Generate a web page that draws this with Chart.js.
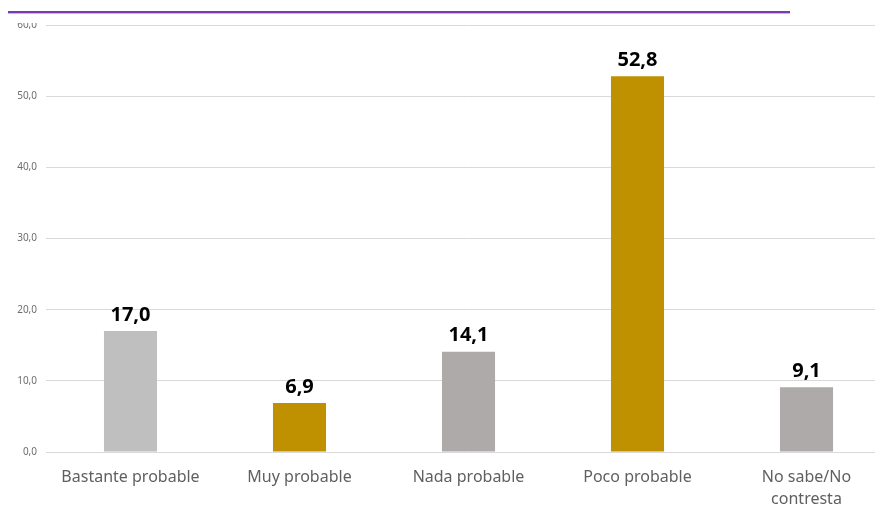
<!DOCTYPE html>
<html lang="es">
<head>
  <meta charset="UTF-8">
  <title>Probabilidad</title>
  <script src="https://cdn.jsdelivr.net/npm/chart.js"></script>
  <style>
    html, body { margin: 0; padding: 0; background: #fff; overflow: hidden; }
    #wrap { position: relative; width: 891px; height: 506px; }
    #topMask { position: absolute; left: 0; top: 0; width: 875px; height: 23px; background: #fff; }
    #topLine { position: absolute; left: 8px; top: 11px; width: 782px; height: 0;
               border-top: 2px solid #7B3BAE; border-bottom: 1px solid #C9B3E0; }
  </style>
</head>
<body>
  <div id="wrap">
    <canvas id="chart" width="891" height="506"></canvas>
    <div id="topMask"></div>
    <div id="topLine"></div>
  </div>

  <script>
    // data
    var categories = ['Bastante probable', 'Muy probable', 'Nada probable', 'Poco probable', ['No sabe/No', 'contresta']];
    var values = [17.0, 6.9, 14.1, 52.8, 9.1];
    var barColors = ['#BFBFBF', '#BF9000', '#AEAAAA', '#BF9000', '#AEAAAA'];
    var yTicks = [0, 10, 20, 30, 40, 50, 60];

    function fmt(v) {
      return v.toFixed(1).replace('.', ',');
    }

    // value labels above bars
    var valueLabels = {
      id: 'valueLabels',
      afterDatasetsDraw: function(chart) {
        var ctx = chart.ctx;
        var meta = chart.getDatasetMeta(0);
        ctx.save();
        ctx.font = 'bold 20px "Noto Sans"';
        ctx.fillStyle = '#000';
        ctx.textAlign = 'center';
        ctx.textBaseline = 'bottom';
        meta.data.forEach(function(bar, i) {
          ctx.fillText(fmt(values[i]), bar.x, bar.y - 6);
        });
        ctx.restore();
      }
    };

    new Chart(document.getElementById('chart'), {
      type: 'bar',
      data: {
        labels: categories,
        datasets: [{
          data: values,
          backgroundColor: barColors,
          borderWidth: 0,
          categoryPercentage: 1.0,
          barPercentage: 0.314
        }]
      },
      options: {
        responsive: false,
        animation: false,
        layout: { padding: { top: 25, right: 0, bottom: 0, left: 0 } },
        plugins: { legend: { display: false }, tooltip: { enabled: false } },
        scales: {
          x: {
            grid: { display: false, drawTicks: false },
            border: { display: false },
            ticks: {
              color: '#5F5F5F',
              font: { family: 'Noto Sans', size: 16, lineHeight: 1.4 },
              padding: 14,
              maxRotation: 0,
              autoSkip: false
            },
            afterFit: function(s) { s.height = 54; }
          },
          y: {
            min: 0,
            max: 60,
            afterBuildTicks: function(s) { s.ticks = yTicks.map(function(v) { return { value: v }; }); },
            grid: { color: '#D9D9D9', lineWidth: 1, drawTicks: false },
            border: { display: false },
            ticks: {
              color: '#6E6E6E',
              font: { family: 'Noto Sans', size: 10 },
              padding: 9,
              callback: function(v) { return fmt(v); }
            },
            afterFit: function(s) { s.width = 46; }
          }
        }
      },
      plugins: [valueLabels]
    });
  </script>
</body>
</html>
